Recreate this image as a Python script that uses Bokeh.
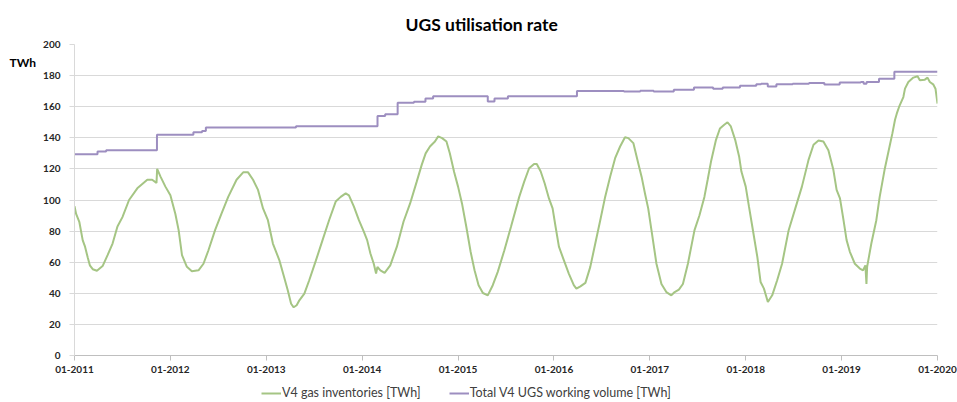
from bokeh.plotting import figure
from bokeh.models import Range1d, FixedTicker, Legend, LegendItem, Label
from bokeh.layouts import row, column
from bokeh.embed import file_html
from bokeh.resources import INLINE

# V4 gas inventories [TWh] (time in decimal years)
GAS_T = [2011.000, 2011.017, 2011.050, 2011.086, 2011.110, 2011.138, 2011.160, 2011.190, 2011.234, 2011.293,
         2011.345, 2011.397, 2011.448, 2011.500, 2011.569, 2011.655, 2011.759, 2011.810, 2011.855, 2011.862,
         2011.897, 2011.948, 2012.000, 2012.052, 2012.086, 2012.121, 2012.172, 2012.224, 2012.293, 2012.345,
         2012.397, 2012.466, 2012.534, 2012.603, 2012.690, 2012.759, 2012.810, 2012.862, 2012.914, 2012.966,
         2013.017, 2013.069, 2013.138, 2013.190, 2013.224, 2013.259, 2013.286, 2013.317, 2013.345, 2013.397,
         2013.448, 2013.517, 2013.586, 2013.655, 2013.724, 2013.776, 2013.828, 2013.862, 2013.914, 2013.966,
         2014.017, 2014.052, 2014.086, 2014.121, 2014.145, 2014.159, 2014.190, 2014.234, 2014.293, 2014.362,
         2014.431, 2014.500, 2014.569, 2014.621, 2014.662, 2014.707, 2014.759, 2014.793, 2014.834, 2014.879,
         2014.914, 2014.959, 2015.000, 2015.041, 2015.086, 2015.131, 2015.172, 2015.214, 2015.259, 2015.310,
         2015.362, 2015.414, 2015.483, 2015.552, 2015.638, 2015.690, 2015.741, 2015.793, 2015.821, 2015.862,
         2015.903, 2015.948, 2015.986, 2016.017, 2016.052, 2016.103, 2016.155, 2016.207, 2016.234, 2016.276,
         2016.328, 2016.379, 2016.431, 2016.483, 2016.534, 2016.586, 2016.638, 2016.690, 2016.741, 2016.776,
         2016.828, 2016.879, 2016.914, 2016.950, 2016.983, 2017.017, 2017.069, 2017.121, 2017.172, 2017.224,
         2017.259, 2017.303, 2017.345, 2017.397, 2017.466, 2017.517, 2017.569, 2017.603, 2017.638, 2017.690,
         2017.731, 2017.776, 2017.810, 2017.845, 2017.890, 2017.931, 2017.955, 2018.000, 2018.034, 2018.069,
         2018.121, 2018.155, 2018.190, 2018.231, 2018.276, 2018.328, 2018.379, 2018.448, 2018.517, 2018.586,
         2018.655, 2018.707, 2018.759, 2018.810, 2018.862, 2018.914, 2018.948, 2018.983, 2019.017, 2019.052,
         2019.086, 2019.138, 2019.190, 2019.224, 2019.248, 2019.259, 2019.266, 2019.310, 2019.362, 2019.397,
         2019.448, 2019.500, 2019.530, 2019.557, 2019.575, 2019.600, 2019.644, 2019.661, 2019.696, 2019.748,
         2019.792, 2019.816, 2019.868, 2019.896, 2019.920, 2019.955, 2019.979, 2020.000]
GAS_V = [96.0, 91.0, 86.0, 74.0, 70.0, 63.0, 58.0, 55.5, 54.5, 57.5,
         64.5, 72.0, 83.0, 89.0, 100.0, 107.5, 113.0, 113.0, 111.0, 120.0,
         115.0, 108.6, 103.0, 91.0, 80.6, 64.5, 57.0, 54.2, 54.8, 59.0,
         67.7, 80.6, 91.4, 102.0, 113.0, 117.8, 117.8, 113.0, 106.5, 94.6,
         87.0, 72.0, 61.0, 49.5, 42.0, 33.3, 31.0, 32.3, 35.5, 39.8,
         48.4, 61.0, 74.0, 87.0, 99.0, 102.0, 104.3, 103.0, 95.7, 87.0,
         79.6, 74.2, 65.6, 59.0, 52.7, 57.0, 54.8, 53.1, 58.0, 70.0,
         86.0, 97.8, 111.8, 122.6, 130.0, 134.4, 137.6, 140.9, 139.8, 137.6,
         130.0, 118.0, 108.6, 97.8, 82.8, 66.7, 54.8, 45.2, 40.2, 38.7,
         45.2, 53.8, 67.7, 82.8, 102.0, 111.8, 120.4, 123.2, 123.2, 118.3,
         110.8, 101.0, 94.6, 82.8, 70.0, 61.3, 52.7, 45.2, 43.0, 44.5,
         46.7, 57.0, 72.0, 87.0, 102.0, 115.0, 126.9, 134.4, 140.4, 139.8,
         136.6, 123.7, 115.0, 104.0, 94.6, 80.6, 59.0, 46.0, 40.8, 38.7,
         40.8, 42.4, 46.0, 59.0, 80.6, 90.0, 102.0, 113.0, 124.7, 138.7,
         146.0, 148.4, 150.0, 147.3, 138.7, 128.0, 118.3, 108.6, 95.7, 82.8,
         63.4, 47.3, 43.0, 34.4, 38.7, 48.4, 59.0, 80.6, 94.6, 108.6,
         125.8, 135.5, 138.3, 137.6, 132.0, 119.4, 106.5, 101.0, 88.2, 74.2,
         66.7, 59.0, 55.9, 54.8, 58.0, 46.0, 57.0, 72.0, 87.0, 102.0,
         119.4, 134.4, 143.0, 151.6, 155.5, 160.0, 166.2, 171.6, 175.9, 178.7,
         179.6, 177.0, 177.4, 178.7, 175.9, 174.4, 171.6, 162.0]

# Total V4 UGS working volume [TWh] (step changes)
WV_T = [2011.00, 2011.24, 2011.33, 2011.86, 2012.24, 2012.33, 2012.37, 2013.31, 2014.16, 2014.24,
        2014.37, 2014.54, 2014.66, 2014.74, 2015.31, 2015.38, 2015.52, 2016.24, 2016.73, 2016.90,
        2017.04, 2017.25, 2017.46, 2017.66, 2017.76, 2017.94, 2018.11, 2018.16, 2018.23, 2018.32,
        2018.49, 2018.66, 2018.82, 2018.98, 2019.20, 2019.23, 2019.26, 2019.39, 2019.55, 2020.00]
WV_V = [129.5, 131.2, 132.0, 142.0, 143.6, 144.3, 146.6, 147.5, 154.0, 155.2,
        162.6, 163.2, 165.2, 166.7, 163.4, 165.2, 166.7, 170.1, 169.7, 170.3,
        169.8, 170.9, 172.3, 171.6, 172.3, 173.5, 174.4, 174.8, 173.0, 174.4,
        174.8, 175.3, 174.2, 175.5, 175.9, 174.8, 175.9, 178.0, 182.4, 182.4]

YEARS = list(range(2011, 2021))
X_LABELS = {y: f"01-{y}" for y in YEARS}
Y_TICKS = list(range(0, 201, 20))

TITLE = "UGS utilisation rate"
UNIT = "TWh"
UNIT_Y = 188.6
GAS_LABEL = "V4 gas inventories [TWh]"
WV_LABEL = "Total V4 UGS working volume [TWh]"

FONT = "Lato"
GREEN = "#a5c584"
PURPLE = "#9d8ec0"

TOP, MAIN_H, LEG_H = 44, 383, 19
UNIT_W = 40

# ---- main chart ----
p = figure(width=957 - UNIT_W, height=MAIN_H, output_backend="svg", toolbar_location=None,
           x_range=Range1d(YEARS[0], YEARS[-1]), y_range=Range1d(Y_TICKS[0], Y_TICKS[-1]),
           min_border_left=67 - UNIT_W, min_border_right=20, min_border_top=TOP,
           min_border_bottom=MAIN_H - TOP - 311)

p.title.text = TITLE
p.title.align = "left"
p.title.offset = 331
p.title.standoff = 20
p.title.text_font = FONT
p.title.text_font_size = "17.5px"
p.title.text_font_style = "bold"
p.title.text_color = "#000000"

p.outline_line_color = None
p.xgrid.grid_line_color = None
p.ygrid.grid_line_color = "#d9d9d9"
p.ygrid.grid_line_width = 1

p.xaxis.ticker = FixedTicker(ticks=YEARS)
p.xaxis.major_label_overrides = X_LABELS
p.yaxis.ticker = FixedTicker(ticks=Y_TICKS)

for ax in (p.xaxis[0], p.yaxis[0]):
    ax.major_tick_in = 0
    ax.major_tick_out = 5
    ax.minor_tick_line_color = None
    ax.major_label_text_font = FONT
    ax.major_label_text_font_size = "10px"
    ax.major_label_text_font_style = "bold"
    ax.major_label_text_color = "#262626"
p.xaxis.axis_line_color = "#bfbfbf"
p.xaxis.major_tick_line_color = "#bfbfbf"
p.xaxis.major_label_standoff = 5
p.yaxis.axis_line_color = "#d9d9d9"
p.yaxis.major_tick_line_color = "#d9d9d9"
p.yaxis.major_label_standoff = 9

p.line(GAS_T, GAS_V, line_color=GREEN, line_width=2)
p.step(WV_T, WV_V, mode="after", line_color=PURPLE, line_width=2)

# ---- unit label strip (left of the y axis) ----
u = figure(width=UNIT_W, height=MAIN_H, output_backend="svg", toolbar_location=None,
           x_range=Range1d(0, UNIT_W), y_range=Range1d(Y_TICKS[0], Y_TICKS[-1]),
           x_axis_location=None, y_axis_location=None,
           min_border_left=0, min_border_right=0, min_border_top=TOP,
           min_border_bottom=MAIN_H - TOP - 311)
u.outline_line_color = None
u.xgrid.grid_line_color = None
u.ygrid.grid_line_color = None
u.add_layout(Label(x=9, y=UNIT_Y, text=UNIT, text_font=FONT, text_font_size="12px",
                   text_font_style="bold", text_color="#000000",
                   text_baseline="middle", text_align="left"))

# ---- legend strip (series drawn off-range so only the legend shows) ----
lg = figure(width=957, height=LEG_H, output_backend="svg", toolbar_location=None,
            x_range=Range1d(0, 1), y_range=Range1d(0, 1),
            x_axis_location=None, y_axis_location=None, min_border=0)
lg.outline_line_color = None
lg.xgrid.grid_line_color = None
lg.ygrid.grid_line_color = None
rg = lg.line(GAS_T, GAS_V, line_color=GREEN, line_width=2)
rw = lg.step(WV_T, WV_V, mode="after", line_color=PURPLE, line_width=2)
legend = Legend(items=[LegendItem(label=GAS_LABEL, renderers=[rg]),
                       LegendItem(label=WV_LABEL, renderers=[rw])],
                location=(261, 2), orientation="horizontal",
                border_line_color=None, background_fill_alpha=0,
                label_text_font=FONT, label_text_font_size="12.5px", label_text_color="#404040",
                glyph_width=20, glyph_height=12, label_standoff=1, spacing=28, padding=0, margin=0,
                label_height=12)
lg.add_layout(legend)

layout = column(row(u, p, spacing=0), lg, spacing=0)
open("out.html", "w").write(file_html(layout, INLINE))
